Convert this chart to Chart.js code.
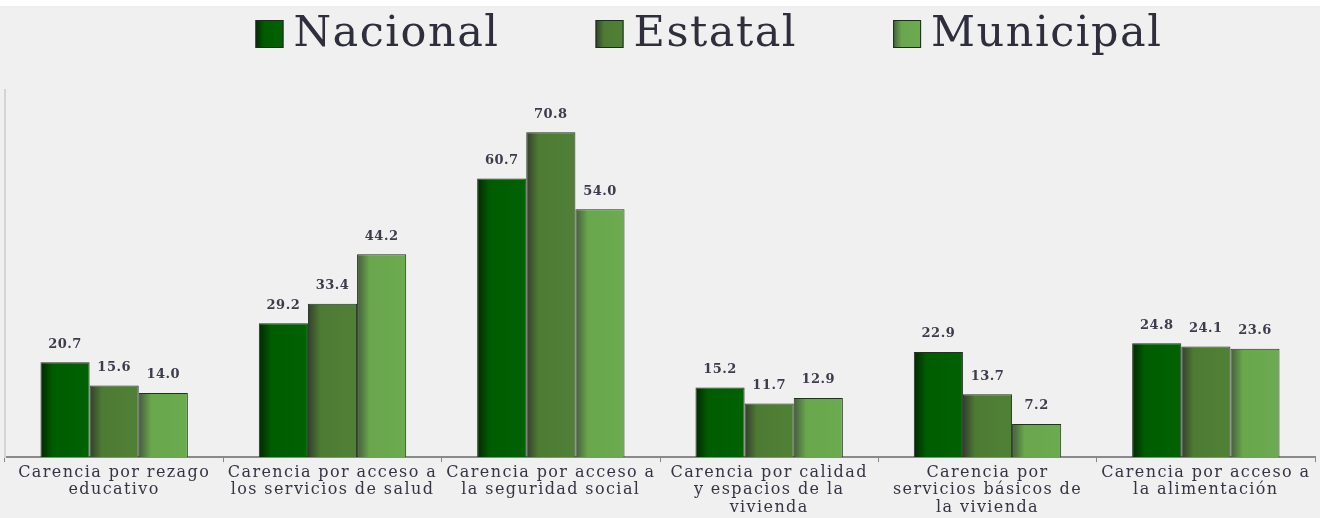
<!DOCTYPE html>
<html><head><meta charset="utf-8">
<script src="https://cdn.jsdelivr.net/npm/chart.js@4"></script>
<style>
html,body{margin:0;padding:0;background:#ffffff;}
#wrap{position:absolute;left:0;top:6px;width:1320px;height:512px;background:#f0f0f0;}
canvas{display:block;}
</style></head><body>
<div id="wrap"><canvas id="c"></canvas></div>
<script>
const categories = [
  ['Carencia por rezago','educativo'],
  ['Carencia por acceso a','los servicios de salud'],
  ['Carencia por acceso a','la seguridad social'],
  ['Carencia por calidad','y espacios de la','vivienda'],
  ['Carencia por','servicios básicos de','la vivienda'],
  ['Carencia por acceso a','la alimentación']
];
const seriesNames = ['Nacional','Estatal','Municipal'];
const nacional = [20.7, 29.2, 60.7, 15.2, 22.9, 24.8];
const estatal = [15.6, 33.4, 70.8, 11.7, 13.7, 24.1];
const municipal = [14.0, 44.2, 54.0, 12.9, 7.2, 23.6];
const yMax = 80;

const palette = [
  {dark:'#052605', main:'#005c00', light:'#006204'},
  {dark:'#343e2e', main:'#4e7b33', light:'#508036'},
  {dark:'#465c3e', main:'#69a64c', light:'#6cab4f'}
];

const gradientBars = {
  id:'gradientBars',
  beforeDatasetsDraw(chart){
    const ctx = chart.ctx;
    chart.data.datasets.forEach((ds,i)=>{
      const meta = chart.getDatasetMeta(i);
      const p = palette[i];
      meta.data.forEach(bar=>{
        const x0 = bar.x - bar.width/2, x1 = bar.x + bar.width/2;
        const g = ctx.createLinearGradient(x0,0,x1,0);
        g.addColorStop(0,p.dark);
        g.addColorStop(0.25,p.main);
        g.addColorStop(1,p.light);
        bar.options = Object.assign({}, bar.options, {backgroundColor:g});
      });
    });
  }
};

const textSpacing = {
  id:'textSpacing',
  beforeDraw(chart){ chart.ctx.letterSpacing = '1.4px'; }
};

const valueLabels = {
  id:'valueLabels',
  afterDatasetsDraw(chart){
    const ctx = chart.ctx;
    ctx.save();
    ctx.letterSpacing = '0.5px';
    ctx.font = 'bold 13px "DejaVu Serif"';
    ctx.fillStyle = '#3c3c4c';
    ctx.textAlign = 'center';
    ctx.textBaseline = 'middle';
    chart.data.datasets.forEach((ds,i)=>{
      const meta = chart.getDatasetMeta(i);
      meta.data.forEach((bar,j)=>{
        ctx.fillText(ds.data[j].toFixed(1), bar.x, bar.y - 18);
      });
    });
    ctx.restore();
  }
};

const bigLegend = {
  id:'bigLegend',
  afterDraw(chart){
    const ctx = chart.ctx;
    ctx.save();
    ctx.letterSpacing = '1.5px';
    ctx.font = '43px "DejaVu Serif"';
    ctx.textBaseline = 'middle';
    const box = 28, gapText = 10, gapItem = 96;
    const widths = chart.data.datasets.map(d=>ctx.measureText(d.label).width);
    const total = widths.reduce((a,b)=>a+b,0) + 3*(box+gapText) + 2*gapItem;
    let x = chart.width/2 + 49 - total/2;
    const cy = 28;
    chart.data.datasets.forEach((d,i)=>{
      const p = palette[i];
      const g = ctx.createLinearGradient(x,0,x+box,0);
      g.addColorStop(0,p.dark); g.addColorStop(0.3,p.main); g.addColorStop(1,p.light);
      ctx.fillStyle = g;
      ctx.fillRect(x, cy-box/2, box, box);
      ctx.strokeStyle = '#1c2c1c';
      ctx.lineWidth = 1;
      ctx.strokeRect(x+0.5, cy-box/2+0.5, box-1, box-1);
      x += box + gapText;
      ctx.fillStyle = '#2e2e3c';
      ctx.fillText(d.label, x, cy+1);
      x += widths[i] + gapItem;
    });
    ctx.restore();
  }
};

const mk = (name, data)=>({label:name, data, borderColor:'#1f331c', borderWidth:1, borderSkipped:'bottom'});

new Chart(document.getElementById('c'), {
  type:'bar',
  data:{
    labels:categories,
    datasets:[mk(seriesNames[0],nacional), mk(seriesNames[1],estatal), mk(seriesNames[2],municipal)]
  },
  options:{
    responsive:true,
    maintainAspectRatio:false,
    animation:false,
    categoryPercentage:0.675,
    barPercentage:1.0,
    layout:{padding:{top:84,left:3,right:5,bottom:0}},
    plugins:{legend:{display:false}, tooltip:{enabled:false}},
    scales:{
      x:{
        grid:{display:true, drawOnChartArea:false, drawTicks:true, tickLength:5, color:'#888888', offset:true},
        border:{display:true, color:'#8a8a8a', width:2},
        ticks:{color:'#343444', font:{family:'"DejaVu Serif"', size:16, lineHeight:1.08}, padding:2, maxRotation:0, autoSkip:false}
      },
      y:{
        min:0, max:yMax,
        ticks:{display:false},
        grid:{display:false},
        border:{display:true, color:'#d4d4d4', width:2},
        afterFit(scale){ scale.width = 2; }
      }
    }
  },
  plugins:[textSpacing, gradientBars, valueLabels, bigLegend]
});
</script>
</body></html>
